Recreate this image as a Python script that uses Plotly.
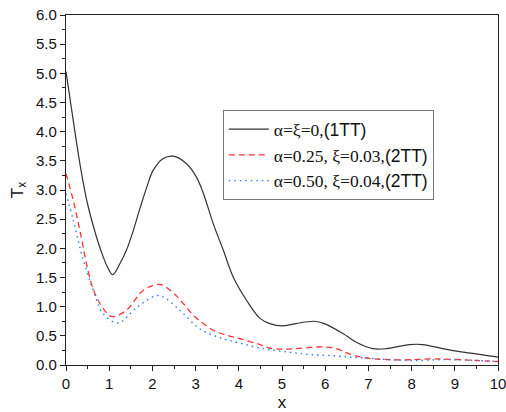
import plotly.graph_objects as go

# Data
x_black = [0, 0.17, 0.34, 0.49, 0.66, 0.80, 0.96, 1.08, 1.25, 1.40, 1.56, 1.71, 1.87, 2.02,
           2.25, 2.48, 2.79, 3.02, 3.18, 3.41, 3.64, 3.87, 4.18, 4.49, 4.72, 5.0, 5.32, 5.75,
           5.98, 6.41, 6.72, 7.1, 7.41, 7.95, 8.26, 8.72, 9.19, 9.65, 10]
y_black = [5.03, 4.18, 3.37, 2.79, 2.31, 1.98, 1.68, 1.55, 1.74, 1.97, 2.31, 2.68, 3.05, 3.34,
           3.54, 3.58, 3.45, 3.22, 2.94, 2.42, 1.97, 1.51, 1.11, 0.80, 0.71, 0.67, 0.71, 0.75,
           0.71, 0.54, 0.39, 0.28, 0.28, 0.35, 0.35, 0.28, 0.22, 0.175, 0.135]

x_red = [0, 0.17, 0.32, 0.59, 0.79, 1.06, 1.40, 1.79, 2.18, 2.52, 2.72, 2.95, 3.18, 3.45,
         3.72, 4.03, 4.49, 4.71, 5.09, 5.48, 5.94, 6.25, 6.56, 6.95, 7.41, 7.95, 8.42, 9.03,
         9.5, 10]
y_red = [3.28, 2.82, 2.31, 1.39, 1.05, 0.83, 0.94, 1.28, 1.38, 1.21, 1.05, 0.85, 0.71, 0.58,
         0.51, 0.45, 0.35, 0.29, 0.27, 0.29, 0.31, 0.28, 0.19, 0.12, 0.094, 0.09, 0.105, 0.094,
         0.077, 0.06]

x_blue = [0, 0.17, 0.36, 0.63, 0.86, 1.21, 1.64, 2.10, 2.29, 2.56, 2.72, 2.95, 3.14, 3.41,
          3.68, 3.95, 4.57, 5.17, 5.63, 6.1, 6.56, 7.02, 7.48, 8.03, 8.57, 9.03, 9.5, 10]
y_blue = [2.94, 2.48, 1.91, 1.28, 0.88, 0.72, 0.99, 1.19, 1.15, 0.99, 0.88, 0.71, 0.60, 0.51,
          0.44, 0.39, 0.28, 0.22, 0.18, 0.163, 0.134, 0.117, 0.09, 0.077, 0.09, 0.09, 0.077, 0.06]

SANS = "font-family:'Liberation Sans', Arial"
names = ["α=ξ=0,<span style=\"%s\">(1TT)</span>" % SANS,
         "α=0.25, ξ=0.03,<span style=\"%s\">(2TT)</span>" % SANS,
         "α=0.50, ξ=0.04,<span style=\"%s\">(2TT)</span>" % SANS]
x_ticks = [0, 1, 2, 3, 4, 5, 6, 7, 8, 9, 10]
y_ticks = [0.0, 0.5, 1.0, 1.5, 2.0, 2.5, 3.0, 3.5, 4.0, 4.5, 5.0, 5.5, 6.0]

fig = go.Figure()
fig.add_trace(go.Scatter(x=x_black, y=y_black, mode="lines", name=names[0],
                         line=dict(color="#333333", width=1.2, shape="spline", smoothing=1.0)))
fig.add_trace(go.Scatter(x=x_red, y=y_red, mode="lines", name=names[1],
                         line=dict(color="#ff3333", width=1.3, dash="6px,4px", shape="spline", smoothing=1.0)))
fig.add_trace(go.Scatter(x=x_blue, y=y_blue, mode="lines", name=names[2],
                         line=dict(color="#2f7bf5", width=1.4, dash="1.5px,4px", shape="spline", smoothing=1.0)))

axis_common = dict(showgrid=False, zeroline=False, showline=True, linecolor="#222222",
                   linewidth=1.3, mirror=True, ticks="outside", ticklen=5, tickwidth=1.2,
                   tickcolor="#222222", automargin=False, ticklabeloverflow="allow",
                   tickfont=dict(family="Liberation Sans, Arial", size=15, color="#111111"))

fig.update_layout(
    width=506, height=412,
    margin=dict(l=66, r=8, t=15, b=47),
    paper_bgcolor="white", plot_bgcolor="white",
    showlegend=True,
    legend=dict(x=0.363, y=0.728, xanchor="left", yanchor="top",
                bgcolor="white", bordercolor="#777777", borderwidth=1,
                itemwidth=40,
                font=dict(family="Liberation Serif, Times New Roman", size=17.5, color="#111111"),
                tracegroupgap=0),
    xaxis=dict(range=[0, 10], tickvals=x_ticks, ticktext=[str(v) for v in x_ticks],
               minor=dict(ticks="outside", dtick=0.5, ticklen=3, tickwidth=1.2, tickcolor="#222222"),
               title=dict(text="x", font=dict(family="Liberation Sans, Arial", size=17, color="#111111"),
                          standoff=4),
               **axis_common),
    yaxis=dict(range=[0, 6], tickvals=y_ticks, ticktext=[f"{v:.1f}" for v in y_ticks],
               minor=dict(ticks="outside", dtick=0.25, ticklen=3, tickwidth=1.2, tickcolor="#222222"),
               title=dict(text="T<sub>x</sub>", font=dict(family="Liberation Sans, Arial", size=17, color="#111111"),
                          standoff=8),
               **axis_common),
)

# remove the default 8px page margin so the figure fills the window exactly
fig.write_html("out.html", config={"displayModeBar": False},
               post_script="document.body.style.margin='0';")
